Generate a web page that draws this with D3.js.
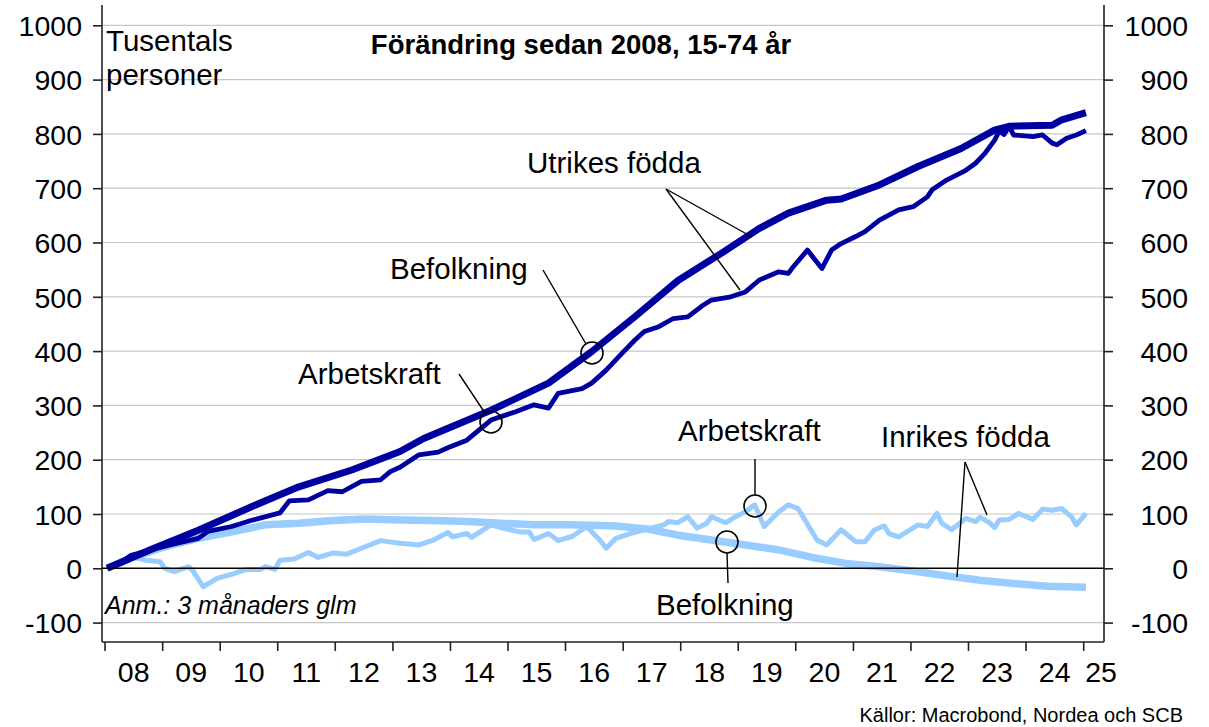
<!DOCTYPE html>
<html>
<head>
<meta charset="utf-8">
<script src="https://cdn.jsdelivr.net/npm/d3@7"></script>
<style>
  html, body { margin: 0; padding: 0; background: #fff; }
  svg { display: block; }
  text { font-family: "Liberation Sans", Arial, Helvetica, sans-serif; fill: #000; }
</style>
</head>
<body>
<svg id="chart" width="1209" height="727"></svg>
<script>
// ---------------- DATA ----------------
const yearLabels = ["08","09","10","11","12","13","14","15","16","17","18","19","20","21","22","23","24","25"];
const yTicks = [-100, 0, 100, 200, 300, 400, 500, 600, 700, 800, 900, 1000];

// Utrikes födda – Befolkning (dark, thick)
const utrikesBefDates = ["2008-01","2008-10","2009-08","2010-07","2011-05","2012-04","2013-02","2013-07","2014-09","2015-09","2016-06","2017-03","2017-12","2018-09","2019-05","2019-11","2020-07","2020-10","2021-06","2022-02","2022-11","2023-06","2023-09","2024-06","2024-08","2025-01"];
const utrikesBefValues = [0,34,70,113,150,181,215,239,291,341,399,463,530,580,626,654,678,680,706,740,773,807,814,816,826,839];

// Utrikes födda – Arbetskraft (dark, thin)
const utrikesArbDates = ["2008-01","2008-04","2008-06","2008-11","2009-03","2009-08","2009-10","2010-03","2010-07","2011-01","2011-03","2011-07","2011-11","2012-02","2012-06","2012-10","2012-12","2013-02","2013-06","2013-10","2013-12","2014-04","2014-09","2015-02","2015-06","2015-09","2015-11","2016-04","2016-06","2016-09","2016-12","2017-03","2017-05","2017-08","2017-11","2018-02","2018-05","2018-07","2018-11","2019-02","2019-05","2019-09","2019-11","2019-12","2020-03","2020-06","2020-08","2020-10","2021-01","2021-03","2021-06","2021-10","2022-01","2022-04","2022-05","2022-08","2022-12","2023-02","2023-04","2023-06","2023-07","2023-08","2023-09","2023-10","2024-02","2024-04","2024-06","2024-07","2024-09","2024-11","2025-01"];
const utrikesArbValues = [0,12,24,36,45,55,68,77,88,102,124,126,143,141,160,163,178,186,209,214,222,236,273,288,301,295,322,331,341,365,393,420,436,445,460,463,483,494,500,509,531,546,543,555,586,552,586,598,611,620,641,660,666,684,697,715,733,746,764,788,805,799,814,798,795,798,783,780,792,798,806];

// Inrikes födda – Befolkning (light, thick)
const inrikesBefDates = ["2008-01","2008-06","2009-01","2009-08","2010-03","2010-10","2011-05","2011-12","2012-07","2013-02","2013-09","2014-04","2014-11","2015-06","2016-01","2016-08","2016-11","2017-06","2017-12","2018-07","2019-02","2019-09","2020-04","2020-11","2021-06","2022-01","2022-08","2023-03","2023-10","2024-05","2025-01"];
const inrikesBefValues = [0,19,40,55,67,80,83,88,91,89,88,86,83,80,80,79,78,72,61,52,43,34,20,9,3,-5,-14,-22,-28,-33,-35];

// Inrikes födda – Arbetskraft (light, thin)
const inrikesArbDates = ["2008-01","2008-04","2008-06","2008-09","2008-12","2009-01","2009-03","2009-06","2009-07","2009-09","2009-12","2010-03","2010-06","2010-09","2010-10","2010-12","2011-01","2011-04","2011-07","2011-09","2011-12","2012-03","2012-06","2012-10","2013-02","2013-06","2013-09","2013-12","2014-01","2014-04","2014-05","2014-09","2014-11","2015-01","2015-03","2015-05","2015-06","2015-09","2015-11","2016-02","2016-05","2016-08","2016-09","2016-11","2017-02","2017-05","2017-09","2017-10","2017-12","2018-02","2018-04","2018-06","2018-07","2018-10","2018-12","2019-02","2019-04","2019-06","2019-09","2019-11","2020-01","2020-05","2020-07","2020-10","2021-01","2021-03","2021-05","2021-07","2021-08","2021-10","2022-02","2022-04","2022-06","2022-07","2022-09","2022-12","2023-02","2023-03","2023-05","2023-06","2023-07","2023-09","2023-11","2024-02","2024-04","2024-06","2024-08","2024-10","2024-11","2025-01"];
const inrikesArbValues = [0,12,21,15,12,0,-6,3,-6,-34,-18,-11,-2,-2,3,-2,15,17,29,20,28,26,37,51,46,43,52,66,58,64,57,80,75,71,67,67,53,64,51,59,77,49,37,55,64,71,80,86,84,95,74,83,95,84,95,104,117,77,104,117,110,52,43,71,49,49,71,78,64,58,80,77,101,83,71,92,86,94,84,75,89,90,101,90,109,107,110,95,80,101];

// ---------------- LAYOUT ----------------
const plotLeft = 102, plotRight = 1104, plotTop = 5, plotBottom = 642;
const darkBlue = "#0000a0", lightBlue = "#99ccff";

const svg = d3.select("#chart");
const parseM = d3.timeParse("%Y-%m");
const mid = s => d3.timeDay.offset(parseM(s), 14);

const x = d3.scaleTime()
  .domain([new Date(2008, 0, 1), new Date(2025, 0, 1)])
  .range([105, 1083.7]);
const y = d3.scaleLinear().domain([0, 1000]).range([568.3, 25.3]);

// gridlines
svg.append("g").selectAll("line").data(yTicks.filter(v => v !== 0)).join("line")
  .attr("x1", plotLeft).attr("x2", plotRight)
  .attr("y1", d => y(d)).attr("y2", d => y(d))
  .attr("stroke", "#c6c6c6").attr("stroke-width", 1.2);

// series
function series(dates, values) { return dates.map((d, i) => ({ date: mid(d), value: values[i] })); }
const line = d3.line().x(d => x(d.date)).y(d => y(d.value)).curve(d3.curveLinear);

const lines = [
  { data: series(inrikesBefDates, inrikesBefValues), color: lightBlue, w: 7.5 },
  { data: series(inrikesArbDates, inrikesArbValues), color: lightBlue, w: 5 },
  { data: series(utrikesBefDates, utrikesBefValues), color: darkBlue, w: 7 },
  { data: series(utrikesArbDates, utrikesArbValues), color: darkBlue, w: 4.8 }
];
svg.append("g").selectAll("path").data(lines).join("path")
  .attr("d", d => line(d.data))
  .attr("fill", "none")
  .attr("stroke", d => d.color)
  .attr("stroke-width", d => d.w)
  .attr("stroke-linejoin", "round")
  .attr("stroke-linecap", "butt");

// zero line
svg.append("line").attr("x1", plotLeft).attr("x2", plotRight)
  .attr("y1", y(0)).attr("y2", y(0)).attr("stroke", "#000").attr("stroke-width", 1.5);

// frame (left, right, bottom)
const frame = svg.append("g").attr("stroke", "#222").attr("stroke-width", 1.6);
frame.append("line").attr("x1", plotLeft).attr("x2", plotLeft).attr("y1", plotTop).attr("y2", plotBottom);
frame.append("line").attr("x1", plotRight).attr("x2", plotRight).attr("y1", plotTop).attr("y2", plotBottom);
frame.append("line").attr("x1", plotLeft).attr("x2", plotRight).attr("y1", plotBottom).attr("y2", plotBottom);

// y axes
const fmt = d => String(d);
const leftAxis = d3.axisLeft(y).tickValues(yTicks).tickSize(9).tickPadding(11).tickFormat(fmt);
const rightAxis = d3.axisRight(y).tickValues(yTicks).tickSize(9).tickPadding(11).tickFormat(fmt);
const gl = svg.append("g").attr("transform", `translate(${plotLeft},0)`).call(leftAxis);
const gr = svg.append("g").attr("transform", `translate(${plotRight},0)`).call(rightAxis);
[gl, gr].forEach(g => {
  g.select(".domain").remove();
  g.selectAll(".tick line").attr("stroke", "#222").attr("stroke-width", 1.6);
  g.selectAll(".tick text").attr("font-size", 28.5).attr("fill", "#000")
    .attr("font-family", "Liberation Sans, Arial, sans-serif").attr("dy", "0.36em");
});
gl.selectAll(".tick text").attr("x", -20);
gr.selectAll(".tick text").attr("text-anchor", "end").attr("x", 84);

// x axis
const yearTicks = yearLabels.map(l => new Date(2000 + +l, 0, 1));
svg.append("g").selectAll("line").data(yearTicks).join("line")
  .attr("x1", d => x(d)).attr("x2", d => x(d))
  .attr("y1", plotBottom).attr("y2", plotBottom + 9)
  .attr("stroke", "#222").attr("stroke-width", 1.6);
svg.append("g").selectAll("text").data(yearLabels).join("text")
  .attr("x", l => Math.min(x(new Date(2000 + +l, 6, 1)), 1101))
  .attr("y", 682)
  .attr("text-anchor", "middle").attr("font-size", 28.5)
  .text(l => l);

// titles & notes
svg.append("text").attr("x", 581).attr("y", 54).attr("text-anchor", "middle")
  .attr("font-size", 27.5).attr("font-weight", "bold").text("Förändring sedan 2008, 15-74 år");
svg.append("text").attr("x", 106).attr("y", 51).attr("font-size", 29.5).text("Tusentals");
svg.append("text").attr("x", 106).attr("y", 85).attr("font-size", 29.5).text("personer");
svg.append("text").attr("x", 105).attr("y", 614).attr("font-size", 25).attr("font-style", "italic").text("Anm.: 3 månaders glm");
svg.append("text").attr("x", 1183).attr("y", 722).attr("text-anchor", "end").attr("font-size", 20)
  .text("Källor: Macrobond, Nordea och SCB");

// annotations
const ann = svg.append("g");
const annText = (t, xx, yy) => ann.append("text").attr("x", xx).attr("y", yy).attr("font-size", 29.5).text(t);
const annLine = (x1, y1, x2, y2) => ann.append("line").attr("x1", x1).attr("y1", y1).attr("x2", x2).attr("y2", y2)
  .attr("stroke", "#000").attr("stroke-width", 1.4);
const annCircle = (cx, cy) => ann.append("circle").attr("cx", cx).attr("cy", cy).attr("r", 11)
  .attr("fill", "none").attr("stroke", "#000").attr("stroke-width", 1.6);

annText("Utrikes födda", 527, 173);
annLine(666, 189, 752, 237);
annLine(666, 189, 740, 290);

annText("Befolkning", 390, 279);
annLine(543, 270, 586, 344);
annCircle(592, 353);

annText("Arbetskraft", 298, 384);
annLine(459, 374, 485, 413);
annCircle(491, 422);

annText("Arbetskraft", 678, 441);
annLine(755, 459, 755, 495);
annCircle(755, 506);

annText("Befolkning", 656, 615);
annLine(728, 583, 727, 553);
annCircle(727, 542);

annText("Inrikes födda", 881, 447);
annLine(965, 462, 987, 515);
annLine(965, 462, 957, 577);
</script>
</body>
</html>
